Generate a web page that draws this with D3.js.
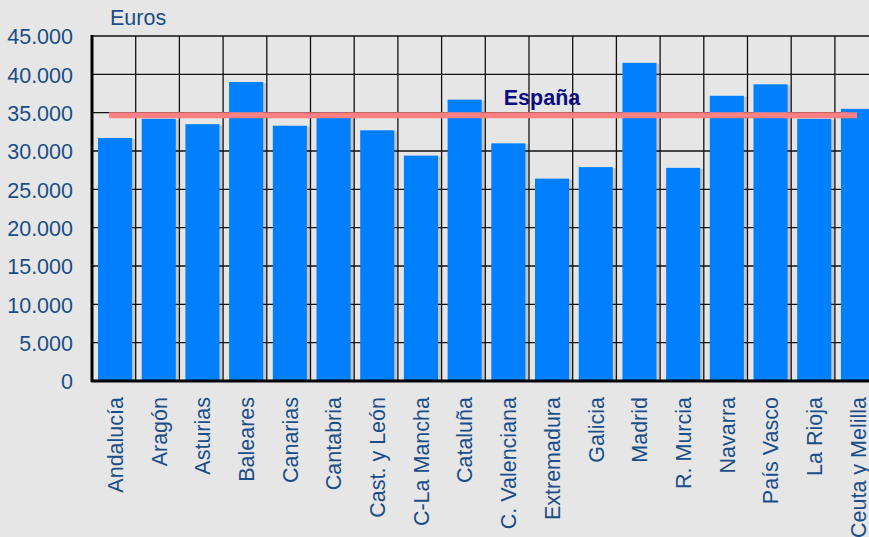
<!DOCTYPE html>
<html>
<head>
<meta charset="utf-8">
<script src="https://cdn.jsdelivr.net/npm/d3@7"></script>
<style>
  html, body { margin: 0; padding: 0; background: #e6e6e6; overflow: hidden; }
  text { font-family: "Liberation Sans", Arial, sans-serif; }
</style>
</head>
<body>
<svg id="chart" width="869" height="537"></svg>
<script>
// renta per capita by comunidad, euros
var regions = ["Andalucía", "Aragón", "Asturias", "Baleares", "Canarias", "Cantabria",
    "Cast. y León", "C-La Mancha", "Cataluña", "C. Valenciana", "Extremadura", "Galicia",
    "Madrid", "R. Murcia", "Navarra", "País Vasco", "La Rioja", "Ceuta y Melilla"];
var values = [31700, 34200, 33500, 39000, 33300, 34400,
    32700, 29400, 36700, 31000, 26400, 27900,
    41500, 27800, 37200, 38700, 34200, 35500];
var spainValue = 34650;
var yTicks = [0, 5000, 10000, 15000, 20000, 25000, 30000, 35000, 40000, 45000];

var textColor = "#1b4d88";
var fontSize = "21.5px";
var svg = d3.select("#chart");

// note: "top" is taken by window.top, so plot edges get their own names
var plotLeft = 92, plotTop = 36, plotBottom = 381;
var band = 43.7;
var plotRight = plotLeft + band * regions.length;

var x = d3.scaleBand()
    .domain(regions)
    .range([plotLeft, plotRight])
    .paddingInner(0.22)
    .paddingOuter(0.11);

var y = d3.scaleLinear()
    .domain([0, 45000])
    .range([plotBottom, plotTop]);

var fmt = function (v) {
    return v == 0 ? "0" : d3.format(",")(v).replace(/,/g, ".");
};

// bar shadows (behind the grid)
var barShift = 1.2;
svg.selectAll("rect.shadow")
    .data(values)
    .enter()
    .append("rect")
    .attr("class", "shadow")
    .attr("x", function (d, i) { return x(regions[i]) + barShift + 3; })
    .attr("width", x.bandwidth())
    .attr("y", function (d) { return y(d) + 1; })
    .attr("height", function (d) { return plotBottom - y(d) - 1; })
    .style("fill", "#c4c4c4");

// grid
var grid = svg.append("g");
grid.selectAll("line.h")
    .data(yTicks)
    .enter()
    .append("line")
    .attr("x1", plotLeft).attr("x2", plotRight)
    .attr("y1", function (d) { return y(d); })
    .attr("y2", function (d) { return y(d); })
    .style("stroke", "#111")
    .style("stroke-width", 1.3);

grid.selectAll("line.v")
    .data(d3.range(regions.length + 1))
    .enter()
    .append("line")
    .attr("x1", function (i) { return plotLeft + i * band; })
    .attr("x2", function (i) { return plotLeft + i * band; })
    .attr("y1", plotTop).attr("y2", plotBottom)
    .style("stroke", "#111")
    .style("stroke-width", 1.3);

// bars
svg.selectAll("rect.bar")
    .data(values)
    .enter()
    .append("rect")
    .attr("class", "bar")
    .attr("x", function (d, i) { return x(regions[i]) + barShift; })
    .attr("width", x.bandwidth())
    .attr("y", function (d) { return y(d); })
    .attr("height", function (d) { return plotBottom - y(d); })
    .style("fill", "#0080ff");

// axes lines
svg.append("line")
    .attr("x1", plotLeft).attr("x2", plotLeft)
    .attr("y1", plotTop - 1).attr("y2", plotBottom + 1)
    .style("stroke", "#000").style("stroke-width", 3);
svg.append("line")
    .attr("x1", plotLeft - 1).attr("x2", plotRight)
    .attr("y1", plotBottom).attr("y2", plotBottom)
    .style("stroke", "#000").style("stroke-width", 3);

// y labels
var yAxis = d3.axisLeft(y).tickValues(yTicks).tickFormat(fmt).tickSize(0).tickPadding(19);
var ya = svg.append("g")
    .attr("transform", "translate(" + plotLeft + ",0)")
    .call(yAxis);
ya.select(".domain").remove();
ya.selectAll("text")
    .style("font-size", fontSize)
    .style("fill", textColor)
    .attr("dy", "0.36em");

// x labels
var xAxis = d3.axisBottom(x).tickSize(0).tickPadding(0);
var xa = svg.append("g")
    .attr("transform", "translate(" + barShift + "," + plotBottom + ")")
    .call(xAxis);
xa.select(".domain").remove();
xa.selectAll("text")
    .style("font-size", fontSize)
    .style("fill", textColor)
    .attr("text-anchor", "end")
    .attr("transform", "rotate(-90)")
    .attr("x", -16)
    .attr("y", 0)
    .attr("dy", "0.36em");

// España line
svg.append("line")
    .attr("x1", 109).attr("x2", 857)
    .attr("y1", y(spainValue)).attr("y2", y(spainValue))
    .style("stroke", "#ff8080")
    .style("stroke-width", 6);

svg.append("text")
    .attr("x", 542)
    .attr("y", 105)
    .attr("text-anchor", "middle")
    .style("font-size", fontSize)
    .style("font-weight", "bold")
    .style("fill", "#0c0c80")
    .text("España");

svg.append("text")
    .attr("x", 110)
    .attr("y", 25)
    .style("font-size", fontSize)
    .style("fill", textColor)
    .text("Euros");
</script>
</body>
</html>
